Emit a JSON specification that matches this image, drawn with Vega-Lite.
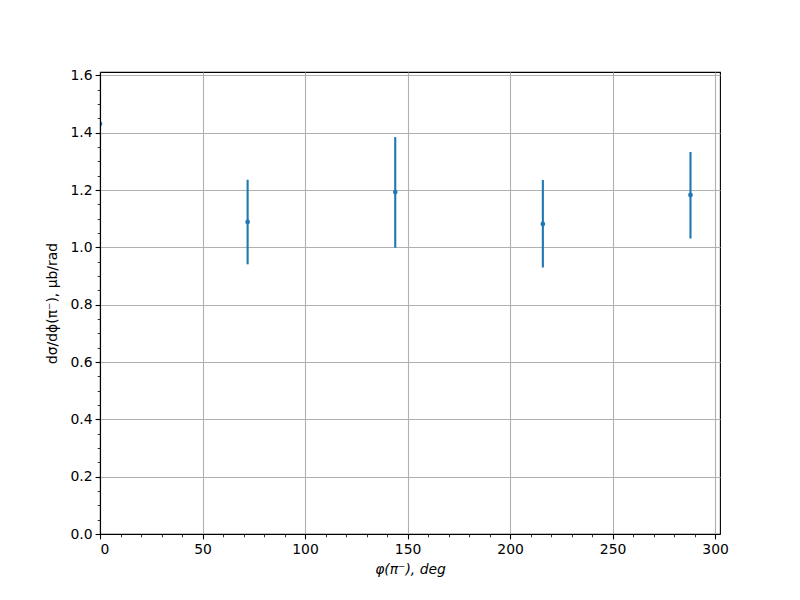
{
  "$schema": "https://vega.github.io/schema/vega-lite/v6.json",
  "width": 620,
  "height": 462,
  "autosize": "none",
  "padding": {"left": 100, "top": 72, "right": 80, "bottom": 66},
  "background": "white",
  "config": {
    "view": {"stroke": "black", "strokeWidth": 1.1},
    "axis": {"labelFont": "DejaVu Sans", "titleFont": "DejaVu Sans", "labelFontSize": 13.9, "titleFontSize": 13.9, "labelColor": "black", "titleColor": "black", "titleFontWeight": "normal"}
  },
  "data": {
    "values": [
      {"phi": 0, "xs": 1.431, "lo": 1.283, "hi": 1.579},
      {"phi": 72, "xs": 1.089, "lo": 0.941, "hi": 1.236},
      {"phi": 144, "xs": 1.193, "lo": 0.999, "hi": 1.385},
      {"phi": 216, "xs": 1.082, "lo": 0.930, "hi": 1.235},
      {"phi": 288, "xs": 1.183, "lo": 1.031, "hi": 1.333}
    ]
  },
  "layer": [
    {
      "layer": [
        {
          "mark": {"type": "rule", "color": "#1f77b4", "strokeWidth": 2.1, "clip": true},
          "encoding": {
            "x": {"field": "phi", "type": "quantitative", "scale": {"domain": [0, 302.4], "nice": false, "zero": false},
              "axis": {"orient": "bottom", "values": [0, 50, 100, 150, 200, 250, 300], "grid": true, "gridColor": "#b0b0b0", "gridWidth": 1.1, "domain": false, "ticks": true, "tickColor": "black", "tickSize": 4.9, "tickWidth": 1.1, "labelPadding": 4, "title": "φ(π⁻), deg", "titleFontStyle": "italic", "titlePadding": 6, "zindex": 0}},
            "y": {"field": "lo", "type": "quantitative", "scale": {"domain": [0, 1.612], "nice": false, "zero": false},
              "axis": {"orient": "left", "values": [0, 0.2, 0.4, 0.6, 0.8, 1.0, 1.2, 1.4, 1.6], "format": ".1f", "grid": true, "gridColor": "#b0b0b0", "gridWidth": 1.1, "domain": false, "ticks": true, "tickColor": "black", "tickSize": 4.9, "tickWidth": 1.1, "labelPadding": 3, "title": "dσ/dϕ(π⁻), μb/rad", "titlePadding": 11, "zindex": 0}},
            "y2": {"field": "hi"}
          }
        },
        {
          "mark": {"type": "circle", "color": "#1f77b4", "opacity": 1, "size": 22, "clip": true},
          "encoding": {
            "x": {"field": "phi", "type": "quantitative"},
            "y": {"field": "xs", "type": "quantitative"}
          }
        }
      ]
    },
    {
      "mark": {"type": "point", "opacity": 0},
      "encoding": {
        "x": {"field": "phi", "type": "quantitative",
          "axis": {"orient": "bottom", "values": [0,10,20,30,40,50,60,70,80,90,100,110,120,130,140,150,160,170,180,190,200,210,220,230,240,250,260,270,280,290,300], "labels": false, "grid": false, "domain": true, "domainColor": "black", "domainWidth": 1.1, "tickColor": "black", "tickSize": 2.8, "tickWidth": 0.8, "title": null, "zindex": 1}},
        "y": {"field": "xs", "type": "quantitative",
          "axis": {"orient": "left", "values": [0,0.05,0.1,0.15,0.2,0.25,0.3,0.35,0.4,0.45,0.5,0.55,0.6,0.65,0.7,0.75,0.8,0.85,0.9,0.95,1.0,1.05,1.1,1.15,1.2,1.25,1.3,1.35,1.4,1.45,1.5,1.55,1.6], "labels": false, "grid": false, "domain": true, "domainColor": "black", "domainWidth": 1.1, "tickColor": "black", "tickSize": 2.8, "tickWidth": 0.8, "title": null, "zindex": 1}}
      }
    }
  ],
  "resolve": {"axis": {"x": "independent", "y": "independent"}}
}
